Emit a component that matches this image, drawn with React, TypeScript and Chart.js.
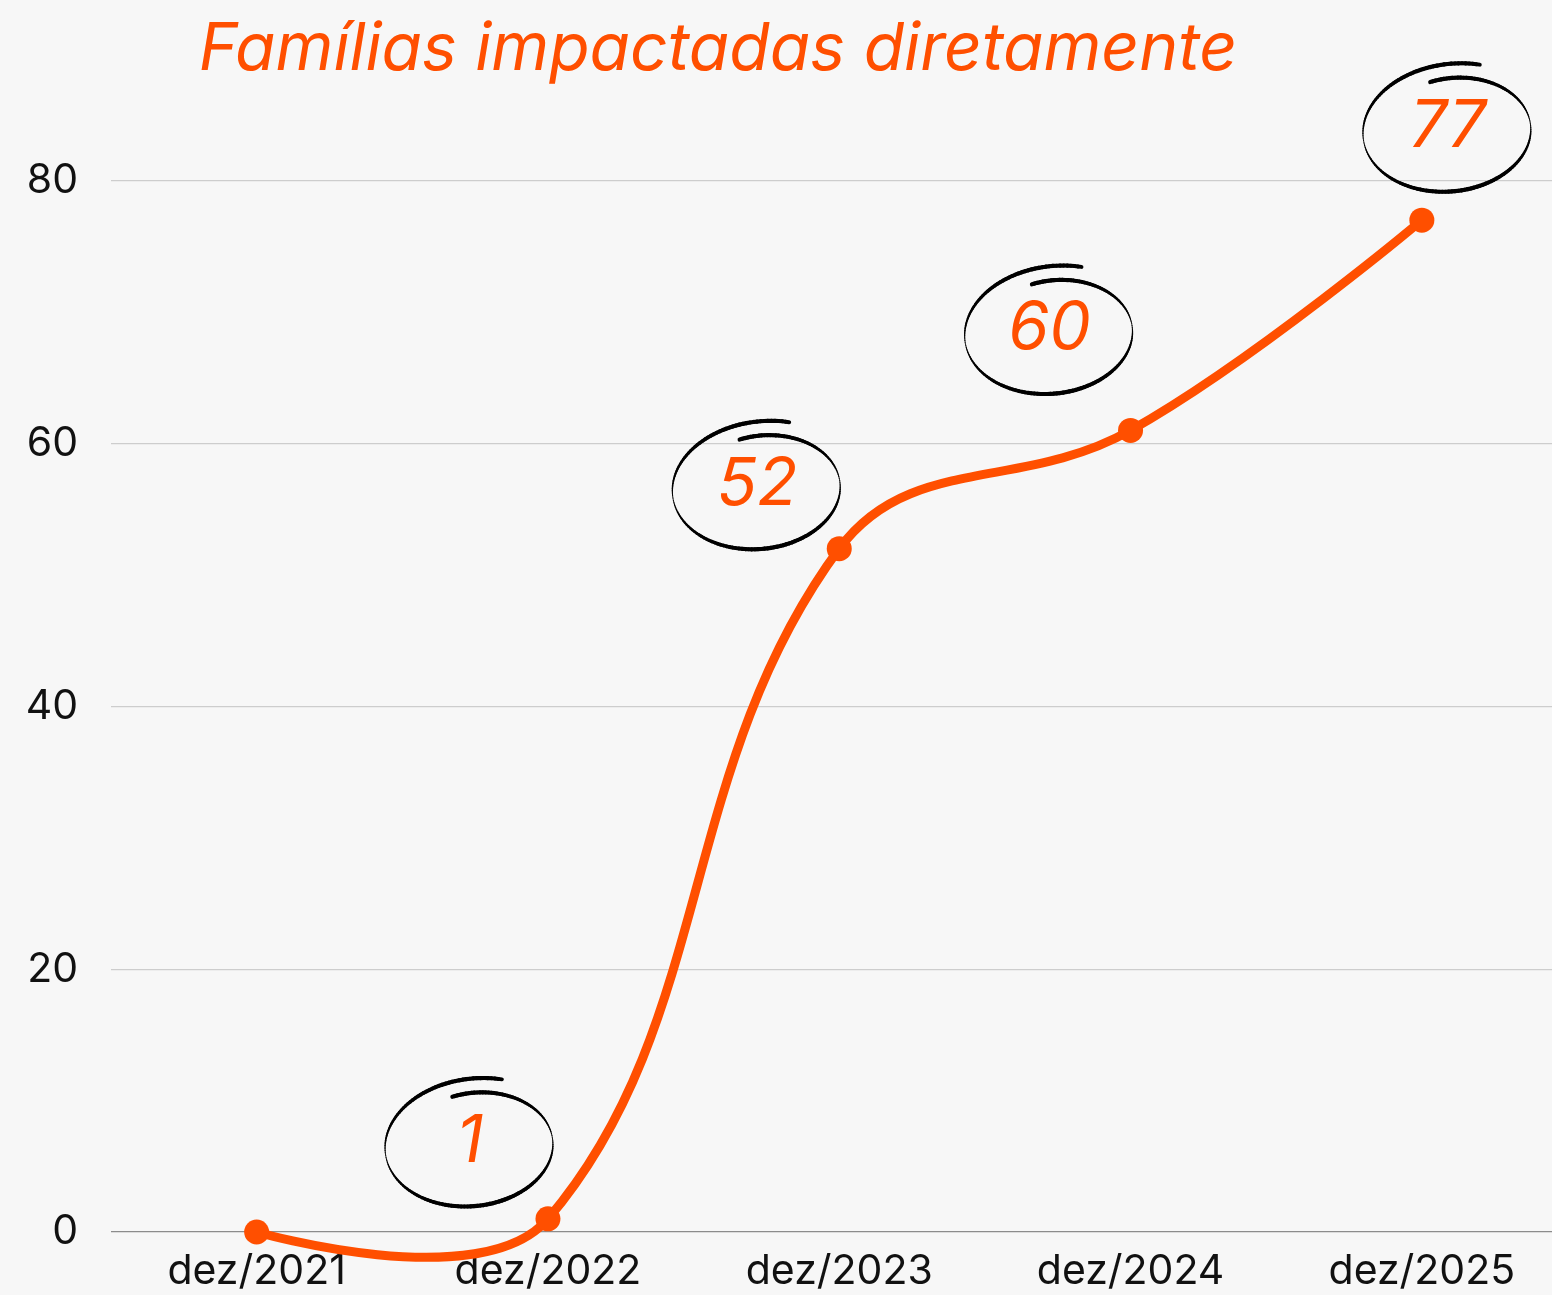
import React, { useEffect, useRef } from "react";
import { Chart, registerables } from "chart.js";

Chart.register(...registerables);

const categories = ["dez/2021", "dez/2022", "dez/2023", "dez/2024", "dez/2025"];
const values = [0, 1, 52, 61, 77];
const annotationTexts = ["", "1", "52", "60", "77"];
const annotationOffsets: [number, number][] = [
  [0, 0],
  [-78, -79],
  [-82, -66],
  [-81, -103],
  [26, -95],
];
const yTicks = [0, 20, 40, 60, 80];
const titleText = "Famílias impactadas diretamente";

const ORANGE = "#ff4f00";
const BG = "#f7f7f7";

const bgPlugin = {
  id: "bg",
  beforeDraw(chart: any) {
    const { ctx, width, height } = chart;
    ctx.save();
    ctx.fillStyle = BG;
    ctx.fillRect(0, 0, width, height);
    ctx.restore();
  },
};

// endpoints use themselves as outer control points (spline smoothing style)
const endpointPlugin = {
  id: "endpointSmoothing",
  beforeDatasetDraw(chart: any, args: any) {
    const meta = args.meta;
    const line = meta.dataset;
    if (!line) return;
    line.updateControlPoints(chart.chartArea, "x");
    const pts = line.points;
    if (!pts || pts.length < 2) return;
    const first = pts[0];
    const last = pts[pts.length - 1];
    first.cp2x = first.x;
    first.cp2y = first.y;
    last.cp1x = last.x;
    last.cp1y = last.y;
    line._path = undefined;
  },
};

const titlePlugin = {
  id: "customTitle",
  afterDraw(chart: any) {
    const { ctx } = chart;
    ctx.save();
    ctx.font = "italic 400 66px Inter";
    ctx.fillStyle = ORANGE;
    ctx.textAlign = "center";
    ctx.textBaseline = "alphabetic";
    ctx.fillText(titleText, 718, 70);
    ctx.restore();
  },
};

function drawScribble(ctx: CanvasRenderingContext2D, cx: number, cy: number) {
  const rx = 95;
  const ry = 68;
  const rot = -0.1;
  const t0 = -1.8;
  const t1 = t0 + Math.PI * 2 + 0.6;
  const steps = 180;
  const pt = (t: number) => {
    const u = (t - t0) / (t1 - t0);
    const s = 0.77 + 0.23 * u;
    const x0 = rx * s * Math.cos(t);
    const y0 = ry * s * Math.sin(t);
    return [
      cx + x0 * Math.cos(rot) - y0 * Math.sin(rot),
      cy + x0 * Math.sin(rot) + y0 * Math.cos(rot),
    ];
  };
  ctx.save();
  ctx.strokeStyle = "#000";
  ctx.lineCap = "round";
  let prev = pt(t0);
  for (let i = 1; i <= steps; i++) {
    const t = t0 + ((t1 - t0) * i) / steps;
    const p = pt(t);
    ctx.lineWidth = 0.8 + 3.4 * Math.abs(Math.sin(t));
    ctx.beginPath();
    ctx.moveTo(prev[0], prev[1]);
    ctx.lineTo(p[0], p[1]);
    ctx.stroke();
    prev = p;
  }
  ctx.restore();
}

const annotationPlugin = {
  id: "scribbles",
  afterDraw(chart: any) {
    const { ctx } = chart;
    const meta = chart.getDatasetMeta(0);
    meta.data.forEach((el: any, i: number) => {
      const txt = annotationTexts[i];
      if (!txt) return;
      const x = el.x + annotationOffsets[i][0];
      const y = el.y + annotationOffsets[i][1];
      drawScribble(ctx, x + 4, y + 6);
      ctx.save();
      ctx.font = "italic 400 66px Inter";
      ctx.fillStyle = ORANGE;
      ctx.textAlign = "center";
      ctx.textBaseline = "middle";
      ctx.fillText(txt, x, y + 2);
      ctx.restore();
    });
  },
};

export default function App() {
  const ref = useRef<HTMLCanvasElement | null>(null);
  useEffect(() => {
    document.body.style.margin = "0";
    document.body.style.background = BG;
    const canvas = ref.current!;
    const chart = new Chart(canvas, {
      type: "line",
      data: {
        labels: categories,
        datasets: [
          {
            data: values,
            borderColor: ORANGE,
            backgroundColor: ORANGE,
            borderWidth: 9,
            pointRadius: 12.5,
            pointBorderWidth: 0,
            pointBackgroundColor: ORANGE,
            tension: 0.4,
            fill: false,
            clip: false,
          },
        ],
      },
      options: {
        responsive: false,
        animation: false,
        events: [],
        elements: { line: { capBezierPoints: false } },
        layout: { padding: { top: 115, left: 0, right: 0, bottom: 0 } },
        plugins: {
          legend: { display: false },
          title: { display: false },
          tooltip: { enabled: false },
        },
        scales: {
          x: {
            offset: true,
            grid: { display: false, drawTicks: false },
            border: { display: false },
            ticks: {
              color: "#111",
              font: { family: "Inter", size: 41 },
              padding: 15,
              maxRotation: 0,
              autoSkip: false,
            },
            afterFit(scale: any) {
              scale.height = 63;
            },
          },
          y: {
            min: 0,
            max: 85,
            grid: {
              drawTicks: false,
              color: (c: any) => (c.tick && c.tick.value === 0 ? "#8c8c8c" : "#cdcdcd"),
              lineWidth: 1.2,
            },
            border: { display: false },
            ticks: {
              stepSize: 20,
              color: "#111",
              font: { family: "Inter", size: 41 },
              padding: 33,
            },
            afterBuildTicks(scale: any) {
              scale.ticks = yTicks.map((v) => ({ value: v }));
            },
            afterFit(scale: any) {
              scale.width = 111;
            },
          },
        },
      },
      plugins: [bgPlugin, endpointPlugin, titlePlugin, annotationPlugin],
    } as any);
    return () => chart.destroy();
  }, []);
  return (
    <div style={{ width: 1552, height: 1295, overflow: "hidden", background: BG }}>
      <canvas ref={ref} width={1580} height={1295} style={{ display: "block" }} />
    </div>
  );
}
